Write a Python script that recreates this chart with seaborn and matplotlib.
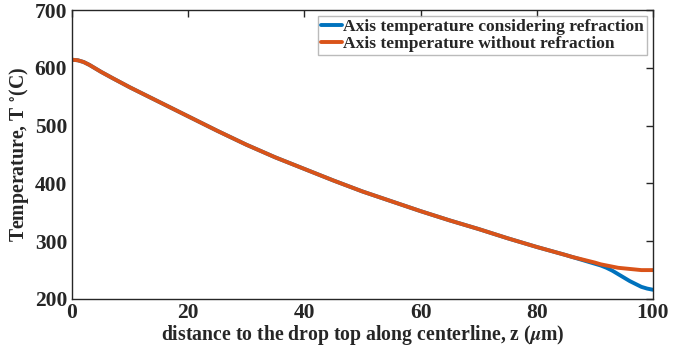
import numpy as np
import pandas as pd
import matplotlib
matplotlib.use("Agg")
import matplotlib.pyplot as plt
import seaborn as sns

z = [0, 1, 2, 3, 4, 5, 7, 10, 15, 20, 25, 30, 35, 40, 45, 50, 55, 60, 65, 70, 75, 80, 85,
     86, 88, 90, 91, 92, 93, 94, 95, 96, 97, 98, 99, 100]
t_refr = [614, 613, 610, 605, 599, 593, 582, 566, 541, 516, 491, 467, 445, 425, 405, 386, 369, 352, 336, 321, 305, 290, 276,
          273, 267, 261, 258, 254, 249, 243, 237, 231, 226, 221, 218, 216]
t_norefr = [614, 613, 610, 605, 599, 593, 582, 566, 541, 516, 491, 467, 445, 425, 405, 386, 369, 352, 336, 321, 305, 290, 276,
            273, 268, 263, 260, 258, 256, 254, 253, 252, 251, 250, 250, 250]
labels = ["Axis temperature considering refraction", "Axis temperature without refraction"]

df = pd.concat([
    pd.DataFrame({"z": z, "T": t_refr, "series": labels[0]}),
    pd.DataFrame({"z": z, "T": t_norefr, "series": labels[1]}),
])

sns.set_style("white")
plt.rcParams['font.family'] = ['Liberation Serif', 'DejaVu Serif']
plt.rcParams['font.weight'] = 'bold'
plt.rcParams['mathtext.fontset'] = 'stix'

fig = plt.figure(figsize=(6.86, 3.56), dpi=100)
ax = fig.add_axes([72/686, 1-299/356, (653-72)/686, (299-10)/356])
sns.lineplot(data=df, x="z", y="T", hue="series", hue_order=labels,
             palette=["#0072BD", "#D95319"], linewidth=2.8, ax=ax, sort=True)

ax.set_xlim(0, 100)
ax.set_ylim(200, 700)
ax.set_xticks([0, 20, 40, 60, 80, 100])
ax.set_yticks([200, 300, 400, 500, 600, 700])
ax.tick_params(direction='in', top=True, right=True, length=5, width=1,
               labelsize=15.5, colors='#262626')
ax.tick_params(axis='x', pad=3)
ax.tick_params(axis='y', pad=3.5)
for lab in ax.get_xticklabels() + ax.get_yticklabels():
    lab.set_fontweight('bold')
for s in ax.spines.values():
    s.set_color('#262626')
    s.set_linewidth(1.0)
ax.set_xlabel(r"distance to the drop top along centerline, z ($\mu$m)", fontsize=14.2, fontweight='bold', labelpad=0)
ax.set_ylabel(r"Temperature, T $^{\circ}$(C)", fontsize=14.2, fontweight='bold', labelpad=2.5)

leg = ax.legend(loc='upper right', fontsize=12.6, frameon=True, fancybox=False,
                edgecolor='#AAAAAA', handlelength=1.2, handletextpad=0.1,
                borderpad=0.15, labelspacing=0.05, borderaxespad=0.35)
leg.get_frame().set_linewidth(1.0)
for t in leg.get_texts():
    t.set_fontweight('bold')

fig.savefig("out.png", dpi=100)
